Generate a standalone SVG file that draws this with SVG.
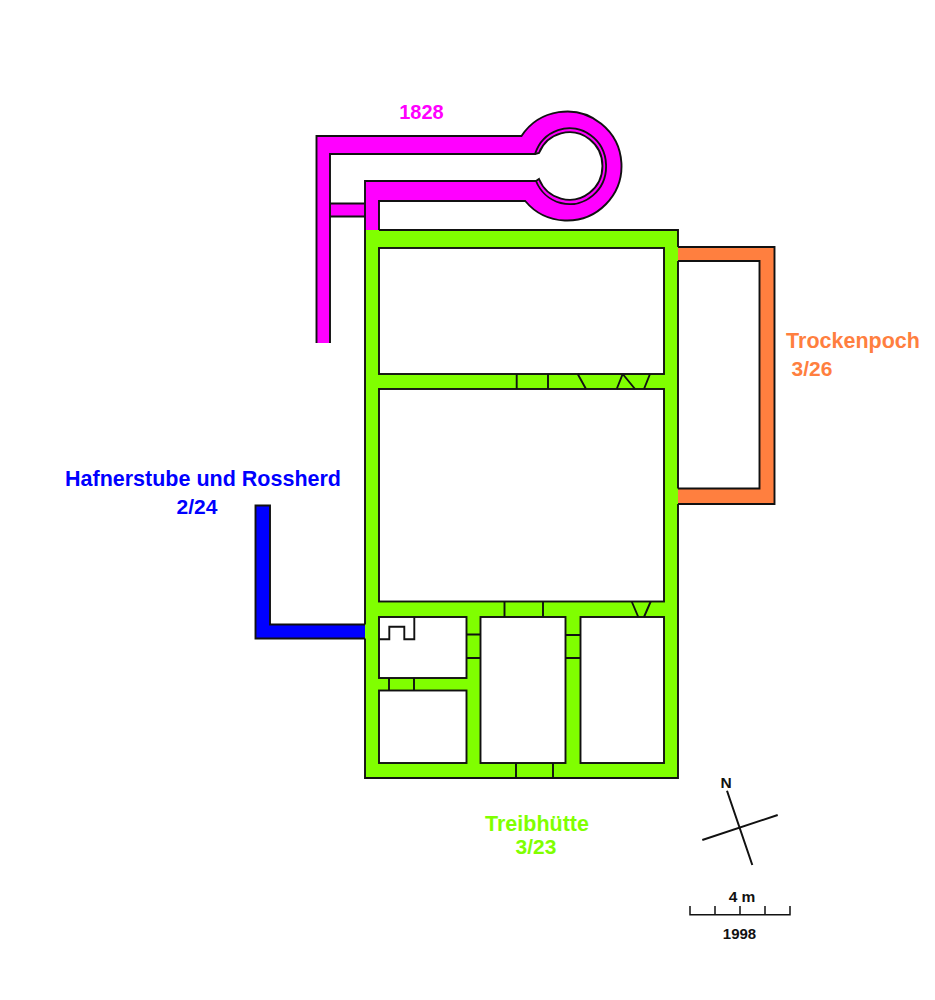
<svg xmlns="http://www.w3.org/2000/svg" width="935" height="1000" viewBox="0 0 935 1000">
<style>
.o{fill:none;stroke:#111;stroke-width:1.9}
.f{stroke:none}
.room{fill:#fff;stroke:#111;stroke-width:1.9}
.t{font-family:"Liberation Sans",Arial,sans-serif;font-weight:bold;font-size:21.500px}
.n{font-family:"Liberation Sans",Arial,sans-serif;font-weight:bold;font-size:21px}
.k{font-family:"Liberation Sans",Arial,sans-serif;font-weight:bold;font-size:15.500px;fill:#111}
</style>
<rect width="935" height="1000" fill="#fff"/>
<g id="bau-1828">
<path class="f" fill="#ff00ff" d="M316.500 343V136H521.500A54.500 54.500 0 1 1 525.200 201H379V230H365V181H536L539 179A33 33.700 0 1 0 539 153L535 154H330V203.500H365V216.500H330V343Z"/>
<path class="o" d="M316.500 343V136H521.500A54.500 54.500 0 1 1 525.200 201H379V230M365 230V181H536A36.500 38 0 1 0 535 154H330V343"/>
<path class="o" d="M536 181L539 179A33 33.700 0 1 0 539 153L535 154M330 203.500H365M330 216.500H365"/>
</g>
<g id="trockenpoch">
<path class="f" fill="#ff7f3f" d="M678 247H774.500V504H678V488.500H759.500V261H678Z"/>
<path class="o" d="M678 247H774.500V504H678M678 488.500H759.500V261H678"/>
</g>
<g id="hafnerstube">
<path class="f" fill="#0000ff" d="M255.500 505.500H270V624.500H365V638.500H255.500Z"/>
<path class="o" d="M365 638.500H255.500V505.500H270V624.500H365"/>
</g>
<g id="treibhuette">
<rect class="f" fill="#80ff00" x="365" y="230" width="313" height="548"/>
<path class="o" d="M365 230V624.500M365 638.500V778H678V504M678 488.500V261M678 247V230H379"/>
<rect class="room" x="379" y="248" width="285" height="126"/>
<rect class="room" x="379" y="389" width="285" height="212.500"/>
<rect class="room" x="379" y="617" width="87.500" height="61"/>
<rect class="room" x="379" y="690.500" width="87.500" height="72.500"/>
<rect class="room" x="480.500" y="617" width="85" height="146"/>
<rect class="room" x="580.500" y="617" width="83.500" height="146"/>
<path class="o" d="M379 639.300H389.300V626.700H404.300V639.300H414.300V617"/>
<path class="o" d="M516.700 374V389M548 374V389M577.700 374L586 389M622.700 374L616.700 389M622.700 374L635 389M650 374L644 389"/>
<path class="o" d="M504.500 601.500V617M543 601.500V617M631.700 601.500L638.300 617M650.700 601.500L644 617"/>
<path class="o" d="M466.500 634.500H480.500M466.500 658H480.500M565.500 635H580.500M565.500 658H580.500"/>
<path class="o" d="M389 678V690.500M414 678V690.500M516 763V778M553 763V778"/>
</g>
<g id="nordpfeil">
<path class="o" style="stroke-width:2" d="M727 790.700L752.300 865M702.300 840L777.700 815"/>
<text class="k" x="726.200" y="788" text-anchor="middle">N</text>
</g>
<g id="massstab">
<path class="o" style="stroke-width:1.500" d="M690 906V914.700H790V906M715 906V914.700M740 906V914.700M765 906V914.700"/>
<text class="k" x="742" y="902" text-anchor="middle">4 m</text>
<text class="k" x="739.500" y="939" text-anchor="middle" style="font-size:15px">1998</text>
</g>
<g id="beschriftung">
<text class="t" x="421.500" y="119" text-anchor="middle" fill="#ff00ff" style="font-size:20px">1828</text>
<text class="t" x="203" y="486" text-anchor="middle" fill="#0000ff">Hafnerstube und Rossherd</text>
<text class="n" x="197" y="514" text-anchor="middle" fill="#0000ff">2/24</text>
<text class="t" x="853" y="348" text-anchor="middle" fill="#ff7f3f">Trockenpoch</text>
<text class="n" x="812" y="376" text-anchor="middle" fill="#ff7f3f">3/26</text>
<text class="t" x="537" y="831" text-anchor="middle" fill="#80ff00">Treibhütte</text>
<text class="n" x="536" y="854" text-anchor="middle" fill="#80ff00">3/23</text>
</g>
</svg>
